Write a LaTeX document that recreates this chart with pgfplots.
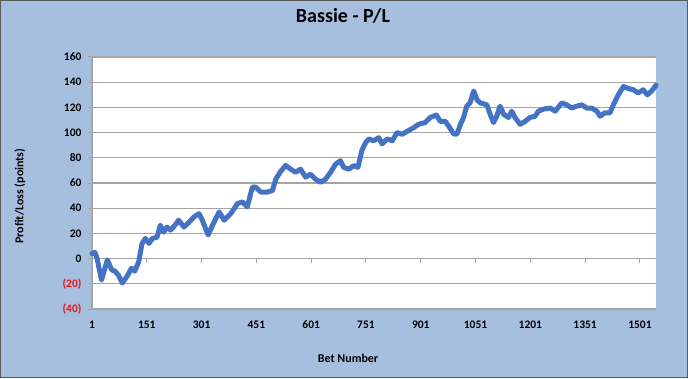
\documentclass[border=0pt]{standalone}
\usepackage{pgfplots}
\pgfplotsset{compat=1.18}
\usepackage{fontspec}
\setmainfont{Carlito}
\definecolor{bgblue}{RGB}{167,191,222}
\definecolor{linblue}{RGB}{68,114,196}
\definecolor{negred}{RGB}{230,20,20}
\definecolor{gridgray}{RGB}{165,165,165}
\begin{document}
\begin{tikzpicture}[x=1pt,y=1pt]
\fill[bgblue] (0,0) rectangle (688,378);
\draw[gray!70!black, line width=1.2pt] (0.6,0.6) rectangle (687.4,377.4);
\begin{axis}[
  at={(92pt,69pt)}, anchor=south west,
  width=564pt, height=252pt, scale only axis,
  xmin=1, xmax=1545, ymin=-40, ymax=160,
  axis background/.style={fill=white},
  axis x line*=bottom, axis y line*=left,
  axis line style={draw=gridgray, line width=1.2pt},
  ytick={-40,-20,0,20,40,60,80,100,120,140,160},
  yticklabels={{\color{negred}(40)},{\color{negred}(20)},0,20,40,60,80,100,120,140,160},
  xtick={1,151,301,451,601,751,901,1051,1201,1351,1501},
  xticklabels={1,151,301,451,601,751,901,1051,1201,1351,1501},
  xtick style={draw=none},
  ytick style={draw=gridgray, line width=1pt},
  tick align=outside, major tick length=4pt,
  ymajorgrids, grid style={draw=gridgray, line width=1.2pt},
  ticklabel style={font=\bfseries\fontsize{11.5}{13}\selectfont},
  yticklabel style={xshift=-3pt},
  xticklabel style={yshift=-4pt},
  xlabel={Bet Number},
  ylabel={Profit/Loss (points)},
  xlabel style={font=\bfseries\fontsize{12}{14}\selectfont, at={(axis description cs:0.454,0)}, yshift=-49pt, anchor=center},
  ylabel style={font=\bfseries\fontsize{12}{14}\selectfont, at={(axis description cs:-0.1277,0.448)}, anchor=center, rotate=0},
  title={Bassie - P/L},
  title style={font=\bfseries\fontsize{20}{24}\selectfont, at={(axis description cs:0.445,1)}, yshift=35pt, anchor=center},
  clip=false,
]
\foreach \t in {151,301,451,601,751,901,1051,1201,1351,1501}{
  \edef\tmp{\noexpand\draw[gridgray, line width=1pt] (axis cs:\t,0) -- (axis cs:\t,-3.5);}\tmp
}
\addplot[linblue, line width=5pt, line join=round, line cap=round] coordinates {
(1,4) (9,5) (15,0) (27,-17) (43,-1) (55,-9) (64,-10) (73,-13) (84,-19.4) (97,-14)
(109,-7.6) (118,-10) (129,-2.4) (138,12) (147,16) (157,12) (166,16) (179,17) (188,26.5)
(197,21) (206,25) (216,22.6) (228,26.5) (238,30.5) (253,25) (267,29) (280,33) (294,35.7)
(303,30.5) (319,18.7) (331,26.5) (349,37) (363,30.5) (381,35.7) (399,43.6) (413,45)
(426,41) (440,56.7) (449,56.7) (463,52.8) (481,52.8) (495,54) (504,63) (517,69) (531,74)
(545,71) (558,68.5) (572,71) (586,64.6) (599,67) (613,63) (627,60.6) (640,63) (654,68.5)
(668,75) (681,77.7) (690,72.4) (704,71) (718,73.8) (729,72.4) (740,86) (750,92) (759,95)
(772,93.5) (786,96) (795,91) (809,95) (823,93.5) (836,100) (850,98.7) (864,101) (882,104)
(895,106.6) (913,108) (927,112) (944,114) (954,109) (968,109) (980,104) (991,99)
(1000,98.7) (1009,106) (1018,112) (1027,121) (1036,123.6) (1046,133) (1055,126)
(1064,123.6) (1082,122) (1091,114.5) (1100,108) (1109,113) (1118,121) (1128,114.5)
(1141,112) (1150,117) (1159,112) (1173,106.6) (1187,109) (1200,112) (1214,113)
(1223,117) (1237,118.6) (1255,119.5) (1269,117) (1287,123.6) (1301,122) (1314,119.5)
(1328,121) (1342,122) (1355,119.5) (1369,119.5) (1383,117) (1392,113) (1405,115.7)
(1419,115.7) (1428,122) (1442,130) (1456,136.6) (1469,135) (1483,134) (1496,131.5)
(1510,134) (1521,130) (1533,133) (1545,137.6)
};
\end{axis}
\end{tikzpicture}
\end{document}
